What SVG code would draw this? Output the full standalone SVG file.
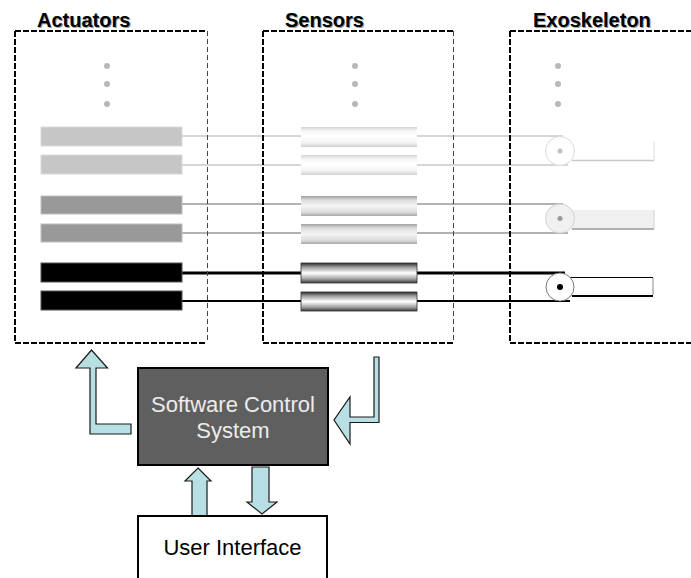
<svg xmlns="http://www.w3.org/2000/svg" width="691" height="578" viewBox="0 0 691 578">
  <defs>
    <style>
      .title { font-family: "Liberation Sans", Arial, sans-serif; font-size: 20px; font-weight: bold; }
      .title-shadow { fill: #9a9a9a; }
      .title-text { fill: #000; }
      .frame-edge { fill: none; stroke: #000; stroke-width: 2; stroke-dasharray: 6 2; }
      .frame-edge-thin { fill: none; stroke: #444; stroke-width: 1; stroke-dasharray: 5 3; }
      .dot { fill: #b8b8b8; }
      .label { font-family: "Liberation Sans", Arial, sans-serif; font-size: 22px; text-anchor: middle; }
      .flow-arrow { fill: #b8e0e4; stroke: #1a1a1a; stroke-width: 1.2; stroke-linejoin: miter; }
      .wire-light { stroke: #c8c8c8; stroke-width: 1.6; fill: none; }
      .wire-mid { stroke: #999; stroke-width: 1.6; fill: none; }
      .wire-dark { stroke: #000; fill: none; }
    </style>
    <linearGradient id="cylLight" x1="0" y1="0" x2="0" y2="1">
      <stop offset="0" stop-color="#d4d4d4"/>
      <stop offset="0.2" stop-color="#f6f6f6"/>
      <stop offset="0.5" stop-color="#ffffff"/>
      <stop offset="0.8" stop-color="#f2f2f2"/>
      <stop offset="1" stop-color="#cfcfcf"/>
    </linearGradient>
    <linearGradient id="cylMid" x1="0" y1="0" x2="0" y2="1">
      <stop offset="0" stop-color="#a0a0a0"/>
      <stop offset="0.2" stop-color="#dcdcdc"/>
      <stop offset="0.5" stop-color="#f4f4f4"/>
      <stop offset="0.8" stop-color="#dedede"/>
      <stop offset="1" stop-color="#a8a8a8"/>
    </linearGradient>
    <linearGradient id="cylDark" x1="0" y1="0" x2="0" y2="1">
      <stop offset="0" stop-color="#2a2a2a"/>
      <stop offset="0.2" stop-color="#9a9a9a"/>
      <stop offset="0.5" stop-color="#ffffff"/>
      <stop offset="0.8" stop-color="#a0a0a0"/>
      <stop offset="1" stop-color="#3a3a3a"/>
    </linearGradient>
  </defs>

  <rect x="0" y="0" width="691" height="578" fill="#fff"/>

  <!-- wires running from each actuator through its sensor to the joint -->
  <g id="connectors">
    <line class="wire-light" x1="182" y1="136" x2="563" y2="136"/>
    <line class="wire-light" x1="182" y1="165" x2="568" y2="165"/>
    <line class="wire-mid" x1="182" y1="204" x2="563" y2="204"/>
    <line class="wire-mid" x1="182" y1="233" x2="568" y2="233"/>
    <line class="wire-dark" stroke-width="3" x1="182" y1="273" x2="565" y2="273"/>
    <line class="wire-dark" stroke-width="2" x1="182" y1="301" x2="570" y2="301"/>

    <!-- actuator command (bent arrow up) -->
    <polygon class="flow-arrow" points="91.5,350 107.5,368 96,368 96,424 131,424 131,434 90,434 90,368 76,368"/>
    <!-- sensor feedback (bent arrow left) -->
    <polygon class="flow-arrow" points="374,357 379,357 379,422.5 350,422.5 350,444 334,420 350,397 350,417 374,417"/>
    <!-- UI to control system -->
    <polygon class="flow-arrow" points="198,468 211,481 207,481 207,516 192,516 192,481 185,481"/>
    <!-- control system to UI -->
    <polygon class="flow-arrow" points="252,467 269,467 269,502 277,502 262,514 247,502 252,502"/>
  </g>

  <!-- Actuators panel -->
  <g id="actuators">
    <path class="frame-edge" d="M15,31 H207 M15,31 V343 M15,343 H207"/>
    <path class="frame-edge-thin" d="M207.5,31 V343"/>
    <text class="title title-shadow" x="38" y="28">Actuators</text>
    <text class="title title-text" x="37" y="27">Actuators</text>
    <circle class="dot" cx="107" cy="66" r="3"/>
    <circle class="dot" cx="107" cy="84" r="3"/>
    <circle class="dot" cx="107" cy="104" r="3"/>
    <rect x="41" y="127" width="141" height="19" fill="#c6c6c6" stroke="#dadada" stroke-width="1"/>
    <rect x="41" y="155" width="141" height="19" fill="#c6c6c6" stroke="#dadada" stroke-width="1"/>
    <rect x="41" y="196" width="141" height="18" fill="#999" stroke="#bdbdbd" stroke-width="1"/>
    <rect x="41" y="224" width="141" height="18" fill="#999" stroke="#bdbdbd" stroke-width="1"/>
    <rect x="41" y="263" width="141" height="19" fill="#000" stroke="#555" stroke-width="1"/>
    <rect x="41" y="291" width="141" height="19" fill="#000" stroke="#555" stroke-width="1"/>
  </g>

  <!-- Sensors panel -->
  <g id="sensors">
    <path class="frame-edge" d="M263,31 H453 M263,31 V343 M263,343 H453"/>
    <path class="frame-edge-thin" d="M453.5,31 V343"/>
    <text class="title title-shadow" x="286" y="28">Sensors</text>
    <text class="title title-text" x="285" y="27">Sensors</text>
    <circle class="dot" cx="355" cy="66" r="3"/>
    <circle class="dot" cx="355" cy="84" r="3"/>
    <circle class="dot" cx="355" cy="104" r="3"/>
    <rect x="301" y="127" width="116" height="20" fill="url(#cylLight)"/>
    <rect x="301" y="155" width="116" height="20" fill="url(#cylLight)"/>
    <rect x="301" y="196" width="116" height="20" fill="url(#cylMid)"/>
    <rect x="301" y="224" width="116" height="20" fill="url(#cylMid)"/>
    <rect x="301" y="263" width="116" height="20" fill="url(#cylDark)" stroke="#333" stroke-width="0.8"/>
    <rect x="301" y="292" width="116" height="19" fill="url(#cylDark)" stroke="#333" stroke-width="0.8"/>
  </g>

  <!-- Exoskeleton panel -->
  <g id="exoskeleton">
    <path class="frame-edge" d="M510,31 H700 M510,31 V343 M510,343 H700"/>
    <text class="title title-shadow" x="534" y="28">Exoskeleton</text>
    <text class="title title-text" x="533" y="27">Exoskeleton</text>
    <circle class="dot" cx="558" cy="66" r="3"/>
    <circle class="dot" cx="558" cy="84" r="3"/>
    <circle class="dot" cx="558" cy="104" r="3"/>

    <!-- upper joint -->
    <rect x="560" y="142" width="94" height="19" fill="#fff"/>
    <line x1="572" y1="160.5" x2="654" y2="160.5" stroke="#c8c8c8" stroke-width="1.6"/>
    <line x1="654" y1="142" x2="654" y2="160" stroke="#dcdcdc" stroke-width="1"/>
    <circle cx="560" cy="151" r="14.5" fill="#fff" stroke="#dadada" stroke-width="1"/>
    <circle cx="560" cy="151" r="2.5" fill="#c0c0c0"/>

    <!-- middle joint -->
    <rect x="560" y="210" width="94" height="19" fill="#f0f0f0"/>
    <line x1="572" y1="229" x2="654" y2="229" stroke="#999" stroke-width="1.6"/>
    <line x1="654" y1="210" x2="654" y2="229" stroke="#d0d0d0" stroke-width="1"/>
    <circle cx="560" cy="218.5" r="14.5" fill="#f0f0f0" stroke="#d2d2d2" stroke-width="1"/>
    <circle cx="560" cy="218.5" r="2.5" fill="#999"/>

    <!-- lower joint -->
    <rect x="560" y="277.5" width="93" height="18.5" fill="#fff"/>
    <line x1="565" y1="277.5" x2="653" y2="277.5" stroke="#000" stroke-width="1"/>
    <line x1="572" y1="296" x2="653" y2="296" stroke="#000" stroke-width="2"/>
    <line x1="653" y1="278" x2="653" y2="295" stroke="#888" stroke-width="1"/>
    <circle cx="560" cy="287" r="14" fill="#fff" stroke="#777" stroke-width="1"/>
    <circle cx="560" cy="287" r="3" fill="#000"/>
  </g>

  <!-- Software Control System -->
  <g id="software-control">
    <rect x="138" y="368" width="190" height="97" fill="#5f5f5f" stroke="#000" stroke-width="2"/>
    <text class="label" x="233" y="412" fill="#ececec">Software Control</text>
    <text class="label" x="233" y="438" fill="#ececec">System</text>
  </g>

  <!-- User Interface -->
  <g id="user-interface">
    <rect x="138" y="516" width="189" height="90" fill="#fff" stroke="#000" stroke-width="2"/>
    <text class="label" x="232.5" y="555" fill="#000">User Interface</text>
  </g>
</svg>
